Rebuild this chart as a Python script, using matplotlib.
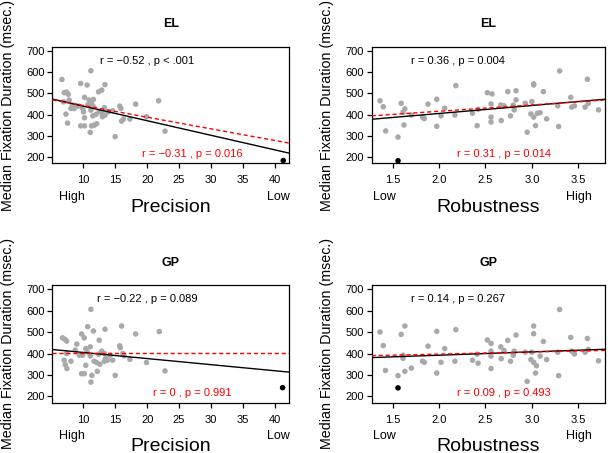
import matplotlib
matplotlib.use("Agg")
import matplotlib.pyplot as plt
import numpy as np

plt.rcParams['font.family'] = ['Liberation Sans', 'DejaVu Sans']

# ---------------- data ----------------
# EL : precision
prec_el_x = [6.67, 7.03, 7.4, 7.66, 6.93, 7.8, 8.3, 8.07, 7.3, 7.55, 8.6, 8.85, 9.6, 10.6,
             11.2, 10.2, 9.3, 9.9, 10.05, 10.2, 9.6, 10.2, 10.7, 10.9, 11.6, 11.3, 11.6, 11.2,
             11.5, 12.0, 11.3, 11.7, 12.1, 11.1, 12.4, 12.9, 13.4, 12.5, 12.9, 13.0, 13.3,
             13.4, 13.9, 14.6, 15.0, 15.7, 15.9, 16.0, 16.3, 17.3, 18.2, 19.9, 21.8, 22.8]
prec_el_y = [565, 503, 506, 495, 460, 468, 445, 429, 402, 360, 429, 440, 546, 539,
             606, 481, 440, 429, 413, 385, 347, 347, 445, 468, 471, 452, 437, 421,
             394, 401, 347, 350, 357, 316, 507, 515, 541, 416, 408, 390, 432,
             397, 413, 418, 296, 440, 429, 369, 379, 379, 449, 390, 465, 322]
prec_el_out = (41.3, 184)

# EL : robustness
rob_el_x = [1.362, 1.397, 1.423, 1.556, 1.59, 1.61, 1.63, 1.62, 1.70, 1.82, 1.84, 1.88,
            1.974, 1.974, 2.02, 2.06, 2.18, 2.17, 2.36, 2.42, 2.41, 2.52, 2.57, 2.56,
            2.56, 2.56, 2.665, 2.67, 2.70, 2.74, 2.77, 2.81, 2.83, 2.83, 2.80, 2.95,
            2.93, 3.00, 3.02, 3.02, 2.99, 3.02, 3.04, 3.06, 3.09, 3.125, 3.16, 3.28,
            3.29, 3.30, 3.42, 3.43, 3.46, 3.575, 3.60, 3.61, 3.72]
rob_el_y = [465, 437, 323, 294, 453, 411, 427, 351, 398, 388, 381, 449,
            472, 345, 394, 430, 536, 398, 406, 425, 348, 503, 497, 450,
            388, 365, 445, 372, 441, 508, 394, 422, 469, 512, 444, 317,
            453, 461, 544, 539, 403, 388, 348, 406, 409, 508, 380, 441,
            344, 605, 481, 435, 441, 435, 566, 453, 422]
rob_el_out = (1.556, 183)

# GP : precision
prec_gp_x = [6.77, 7.14, 7.4, 7.4, 7.03, 7.19, 7.45, 8.07, 9.0, 8.75, 9.4, 9.74, 10.16,
             10.7, 11.2, 11.6, 9.74, 10.16, 9.9, 10.4, 10.6, 11.1, 10.4, 11.1, 11.2,
             11.35, 11.7, 12.1, 12.6, 12.2, 12.9, 12.4, 12.5, 13.4, 13.3, 13.5, 13.3,
             13.8, 14.2, 14.6, 15.0, 15.7, 15.8, 16.0, 16.4, 16.2, 17.3, 18.2, 19.9,
             21.9, 22.8]
prec_gp_y = [473, 466, 458, 400, 369, 348, 330, 364, 444, 416, 392, 491, 473,
             525, 606, 505, 306, 306, 392, 423, 408, 431, 345, 389, 267,
             298, 364, 358, 350, 317, 411, 397, 462, 513, 400, 377, 364,
             369, 392, 369, 298, 436, 427, 528, 389, 400, 373, 491, 358,
             502, 319]
prec_gp_out = (41.2, 241)

# GP : robustness
rob_gp_x = [1.362, 1.397, 1.42, 1.556, 1.59, 1.61, 1.63, 1.63, 1.61, 1.70, 1.82, 1.84,
            1.88, 1.974, 1.974, 2.02, 2.06, 2.18, 2.17, 2.36, 2.42, 2.41, 2.52, 2.56,
            2.56, 2.56, 2.56, 2.665, 2.67, 2.70, 2.74, 2.77, 2.80, 2.81, 2.83, 2.95,
            2.93, 3.00, 3.02, 3.02, 2.99, 3.02, 3.04, 3.05, 3.09, 3.125, 3.16, 3.28,
            3.29, 3.30, 3.42, 3.43, 3.46, 3.575, 3.60, 3.61, 3.72]
rob_gp_y = [500, 437, 321, 297, 489, 378, 317, 528, 392, 332, 364, 359,
            434, 503, 309, 359, 423, 511, 364, 369, 355, 397, 463, 447,
            411, 388, 330, 431, 376, 414, 461, 364, 392, 411, 486, 270,
            406, 406, 528, 492, 372, 359, 309, 343, 388, 456, 372, 406,
            297, 605, 475, 411, 398, 406, 470, 419, 366]
rob_gp_out = (1.556, 240)

# regression lines (intercept, slope): all data (black) / without outlier (red)
el_prec_fit_all, el_prec_fit_excl = (508.4, -6.86), (497.3, -5.48)
el_rob_fit_all, el_rob_fit_excl = (330.4, 37.4), (356.4, 29.6)
gp_prec_fit_all, gp_prec_fit_excl = (433.3, -2.84), (403.0, 0.0)
gp_rob_fit_all, gp_rob_fit_excl = (361.4, 15.4), (377.5, 9.85)

# correlation annotations
el_prec_txt = ("r = \u22120.52 , p < .001", "r = \u22120.31 , p = 0.016")
el_rob_txt = ("r = 0.36 , p = 0.004", "r = 0.31 , p = 0.014")
gp_prec_txt = ("r = \u22120.22 , p = 0.089", "r = 0 , p = 0.991")
gp_rob_txt = ("r = 0.14 , p = 0.267", "r = 0.09 , p = 0.493")

titles = ["EL", "EL", "GP", "GP"]
prec_ticks = [10, 15, 20, 25, 30, 35, 40]
rob_ticks = [1.5, 2.0, 2.5, 3.0, 3.5]
y_ticks = [200, 300, 400, 500, 600, 700]

# ---------------- figure ----------------
W, H = 608, 453
fig = plt.figure(figsize=(W / 100, H / 100), dpi=100)


def rect(l, r, t, b):
    return [l / W, 1 - b / H, (r - l) / W, (b - t) / H]


GRAY = '#A9A9A9'
RED = '#FF0000'

panels = [
    dict(rect=rect(52.3, 289, 46.7, 163.3), x=prec_el_x, y=prec_el_y, out=prec_el_out,
         fa=el_prec_fit_all, fe=el_prec_fit_excl, txt=el_prec_txt, title=titles[0],
         xlim=(5.16, 42.2), ticks=prec_ticks, xlabel="Precision",
         lo=("High", 8.2), hi=("Low", 40.6), tpos=(20.0, 27.0)),
    dict(rect=rect(371.7, 605, 46.7, 163.3), x=rob_el_x, y=rob_el_y, out=rob_el_out,
         fa=el_rob_fit_all, fe=el_rob_fit_excl, txt=el_rob_txt, title=titles[1],
         xlim=(1.272, 3.79), ticks=rob_ticks, xlabel="Robustness",
         lo=("Low", 1.405), hi=("High", 3.51), tpos=(2.2, 2.7)),
    dict(rect=rect(52.3, 289, 285, 402.7), x=prec_gp_x, y=prec_gp_y, out=prec_gp_out,
         fa=gp_prec_fit_all, fe=gp_prec_fit_excl, txt=gp_prec_txt, title=titles[2],
         xlim=(5.16, 42.2), ticks=prec_ticks, xlabel="Precision",
         lo=("High", 8.2), hi=("Low", 40.6), tpos=(20.0, 27.0)),
    dict(rect=rect(371.7, 605, 285, 402.7), x=rob_gp_x, y=rob_gp_y, out=rob_gp_out,
         fa=gp_rob_fit_all, fe=gp_rob_fit_excl, txt=gp_rob_txt, title=titles[3],
         xlim=(1.272, 3.79), ticks=rob_ticks, xlabel="Robustness",
         lo=("Low", 1.405), hi=("High", 3.51), tpos=(2.2, 2.7)),
]

for p in panels:
    ax = fig.add_axes(p['rect'])
    ax.scatter(p['x'], p['y'], s=16, color=GRAY, edgecolors='none', zorder=2)
    ax.scatter([p['out'][0]], [p['out'][1]], s=16, color='black', edgecolors='none', zorder=3)
    ax.axline((0, p['fa'][0]), slope=p['fa'][1], color='black', lw=1.0, zorder=4)
    ax.axline((0, p['fe'][0]), slope=p['fe'][1], color=RED, lw=1.0,
              dashes=(3, 2), zorder=5)
    ax.set_xlim(*p['xlim'])
    ax.set_ylim(171, 719)
    ax.set_xticks(p['ticks'])
    ax.set_xticklabels([f"{t:g}" if isinstance(t, int) else f"{t:.1f}" for t in p['ticks']])
    ax.set_yticks(y_ticks)
    ax.tick_params(axis='both', direction='out', length=3.5, width=0.9, labelsize=8)
    ax.tick_params(axis='x', pad=5)
    ax.tick_params(axis='y', pad=2)
    for s in ax.spines.values():
        s.set_linewidth(0.9)
    ax.text(p['tpos'][0], 652, p['txt'][0], color='black', fontsize=8,
            ha='center', va='center')
    ax.text(p['tpos'][1], 215, p['txt'][1], color=RED, fontsize=8,
            ha='center', va='center')
    ax.set_title(p['title'], fontsize=9, fontweight='bold', pad=14)
    ax.set_ylabel("Median Fixation Duration (msec.)", fontsize=10.3, labelpad=8)
    for lab, xv in (p['lo'], p['hi']):
        ax.annotate(lab, xy=(xv, 0), xycoords=('data', 'axes fraction'),
                    xytext=(0, -24), textcoords='offset points',
                    ha='center', va='center', fontsize=9, annotation_clip=False)
    ax.annotate(p['xlabel'], xy=(0.5, 0), xycoords='axes fraction',
                xytext=(0, -31.5), textcoords='offset points',
                ha='center', va='center', fontsize=14)

fig.savefig("out.png", dpi=100)
